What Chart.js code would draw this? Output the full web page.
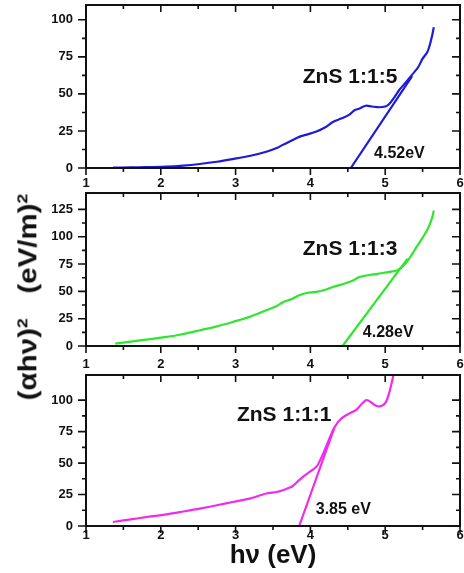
<!DOCTYPE html>
<html>
<head>
<meta charset="utf-8">
<script src="https://cdn.jsdelivr.net/npm/chart.js@4.4.1/dist/chart.umd.min.js"></script>
<style>
  html, body { margin: 0; padding: 0; background: #fff; }
  #wrap { position: relative; width: 464px; height: 573px; overflow: hidden; }
  canvas { position: absolute; left: 0; }
  #ytitle {
    position: absolute; left: 28px; top: 297px; white-space: nowrap;
    font: bold 25px "Liberation Sans", Arial, sans-serif; color: #111;
    transform: translate(-50%, -50%) rotate(-90deg) scale(1.18, 1);
  }
  #ytitle sup { font-size: 15px; }
</style>
</head>
<body>
<div id="wrap">
  <canvas id="c1" width="464" height="190" style="top:0"></canvas>
  <canvas id="c2" width="464" height="180" style="top:190px"></canvas>
  <canvas id="c3" width="464" height="203" style="top:370px"></canvas>
  <div id="ytitle">(αhν)<sup>2</sup>&nbsp;&nbsp;&nbsp;(eV/m)<sup>2</sup></div>
</div>
<script>
// ZnS 1:1:5 (haut)
const x115 = [1.36, 1.6, 1.8, 2.08, 2.3, 2.52, 2.75, 2.96, 3.2, 3.41, 3.55, 3.63, 3.75, 3.85, 3.95, 4.08, 4.2, 4.3, 4.42, 4.52, 4.59, 4.65, 4.74, 4.82, 4.92, 5.0, 5.05, 5.12, 5.19, 5.28, 5.36, 5.44, 5.5, 5.56, 5.59, 5.63, 5.65];
const y115 = [0.2, 0.4, 0.6, 0.9, 1.6, 2.7, 4.2, 6, 8.3, 11, 13.5, 15.6, 18.5, 21, 22.5, 24.6, 27.5, 31, 33.5, 36, 39, 40, 42, 41.5, 41, 41.5, 43, 47.5, 52.8, 58, 63, 68, 73.8, 78, 82, 90, 95];
const tanX115 = [4.54, 5.36];
const tanY115 = [0, 62];

// ZnS 1:1:3 (milieu)
const x113 = [1.39, 1.6, 1.8, 2.08, 2.3, 2.52, 2.75, 2.96, 3.2, 3.41, 3.55, 3.63, 3.75, 3.85, 3.95, 4.08, 4.2, 4.3, 4.45, 4.57, 4.65, 4.79, 4.9, 4.98, 5.08, 5.16, 5.22, 5.29, 5.35, 5.42, 5.49, 5.56, 5.6, 5.63, 5.65];
const y113 = [2.2, 4, 5.8, 8.3, 11, 14.4, 18, 22, 27, 32.7, 36.5, 40, 43, 46.5, 48.5, 49.5, 51.5, 54, 57, 60, 63, 65, 66, 67, 68, 69.4, 72, 77, 83, 90.7, 98, 106, 112, 118, 124];
const tanX113 = [4.43, 5.3];
const tanY113 = [0, 80];

// ZnS 1:1:1 (bas)
const x111 = [1.36, 1.6, 1.8, 2.08, 2.3, 2.52, 2.75, 2.96, 3.2, 3.41, 3.55, 3.63, 3.7, 3.76, 3.85, 3.92, 3.99, 4.08, 4.12, 4.16, 4.23, 4.3, 4.35, 4.39, 4.45, 4.52, 4.61, 4.67, 4.74, 4.78, 4.83, 4.88, 4.92, 4.97, 5.01, 5.05, 5.08, 5.11];
const y111 = [3.2, 5.3, 7, 9.3, 11.5, 13.8, 16.5, 19.1, 22, 25.8, 27, 28.4, 30, 31.6, 36.4, 40, 43, 47, 51, 56, 66, 76, 81, 84, 87, 89.4, 92, 96, 100, 99.5, 97.4, 95.5, 95, 96, 98.6, 105, 112, 120];
const tanX111 = [3.85, 4.32];
const tanY111 = [0, 78];

// étiquettes
const sampleNames = ['ZnS 1:1:5', 'ZnS 1:1:3', 'ZnS 1:1:1'];
const gapLabels = ['4.52eV', '4.28eV', '3.85 eV'];

const FONT = '"Liberation Sans", Arial, sans-serif';

function pts(xs, ys) {
  return xs.map((x, i) => ({ x: x, y: ys[i] }));
}

// cadre + graduations (majeures et mineures) sur les 4 côtés
const framePlugin = {
  id: 'frame',
  afterDatasetsDraw(chart) {
    const { ctx, chartArea: a, scales } = chart;
    ctx.save();
    ctx.strokeStyle = '#111';
    ctx.lineWidth = 2;
    ctx.strokeRect(a.left, a.top, a.right - a.left, a.bottom - a.top);
    ctx.lineWidth = 1.6;
    ctx.beginPath();
    scales.x.ticks.forEach(t => {
      const px = scales.x.getPixelForValue(t.value);
      const len = Number.isInteger(t.value) ? 7 : 4;
      ctx.moveTo(px, a.bottom); ctx.lineTo(px, a.bottom + len);
      ctx.moveTo(px, a.top); ctx.lineTo(px, a.top + len);
    });
    scales.y.ticks.forEach(t => {
      if (t.value % 12.5 !== 0) return;
      const py = scales.y.getPixelForValue(t.value);
      const len = t.value % 25 === 0 ? 8 : 4;
      ctx.moveTo(a.left - len, py); ctx.lineTo(a.left, py);
      ctx.moveTo(a.right - len, py); ctx.lineTo(a.right, py);
    });
    ctx.stroke();
    ctx.restore();
  }
};

// textes posés en coordonnées de données
const notesPlugin = {
  id: 'notes',
  afterDatasetsDraw(chart, args, opts) {
    const { ctx, scales } = chart;
    ctx.save();
    ctx.fillStyle = '#111';
    ctx.textAlign = 'center';
    ctx.textBaseline = 'middle';
    opts.items.forEach(n => {
      ctx.font = 'bold ' + n.size + 'px ' + FONT;
      ctx.fillText(n.text, scales.x.getPixelForValue(n.x), scales.y.getPixelForValue(n.y));
    });
    ctx.restore();
  }
};

function makePanel(id, curve, tangent, color, yMax, padTop, xAxisH, labelPad, notes, withTitle) {
  new Chart(document.getElementById(id), {
    type: 'scatter',
    data: {
      datasets: [
        { data: curve, showLine: true, borderColor: color, borderWidth: 2.2, pointRadius: 0, tension: 0.3 },
        { data: tangent, showLine: true, borderColor: color, borderWidth: 2.2, pointRadius: 0 }
      ]
    },
    options: {
      responsive: false,
      animation: false,
      devicePixelRatio: 1,
      layout: { autoPadding: false, padding: { left: 0, right: 4, top: padTop, bottom: 0 } },
      plugins: {
        legend: { display: false },
        tooltip: { enabled: false },
        notes: { items: notes }
      },
      scales: {
        x: {
          type: 'linear', min: 1, max: 6,
          grid: { display: false, drawTicks: false },
          border: { display: false },
          ticks: {
            stepSize: 0.5, padding: labelPad, color: '#111', maxRotation: 0, autoSkip: false,
            font: { family: FONT, size: 13, weight: 'bold' },
            callback: v => Number.isInteger(v) ? v : ''
          },
          title: {
            display: withTitle, text: 'hν (eV)', color: '#111', padding: 2,
            font: { family: FONT, size: 26, weight: 'bold' }
          },
          afterFit: s => { s.height = xAxisH; s.paddingLeft = 0; s.paddingRight = 0; }
        },
        y: {
          min: 0, max: yMax,
          grid: { display: false, drawTicks: false },
          border: { display: false },
          ticks: {
            stepSize: 12.5, padding: 13, color: '#111', autoSkip: false,
            font: { family: FONT, size: 13, weight: 'bold' },
            callback: v => v % 25 === 0 ? v : ''
          },
          afterFit: s => { s.width = 86; s.paddingTop = 0; s.paddingBottom = 0; }
        }
      }
    },
    plugins: [framePlugin, notesPlugin]
  });
}

makePanel('c1', pts(x115, y115), pts(tanX115, tanY115), '#1c1cd8', 110, 5, 22, 8, [
  { text: sampleNames[0], x: 4.53, y: 61.6, size: 21 },
  { text: gapLabels[0], x: 5.19, y: 10, size: 16 }
], false);

makePanel('c2', pts(x113, y113), pts(tanX113, tanY113), '#2ee62e', 140, 3, 24, 11, [
  { text: sampleNames[1], x: 4.53, y: 88.6, size: 21 },
  { text: gapLabels[1], x: 5.04, y: 12.5, size: 16 }
], false);

makePanel('c3', pts(x111, y111), pts(tanX111, tanY111), '#ee2cee', 120, 5, 47, 2, [
  { text: sampleNames[2], x: 3.65, y: 88, size: 21 },
  { text: gapLabels[2], x: 4.44, y: 13.3, size: 16 }
], true);
</script>
</body>
</html>
